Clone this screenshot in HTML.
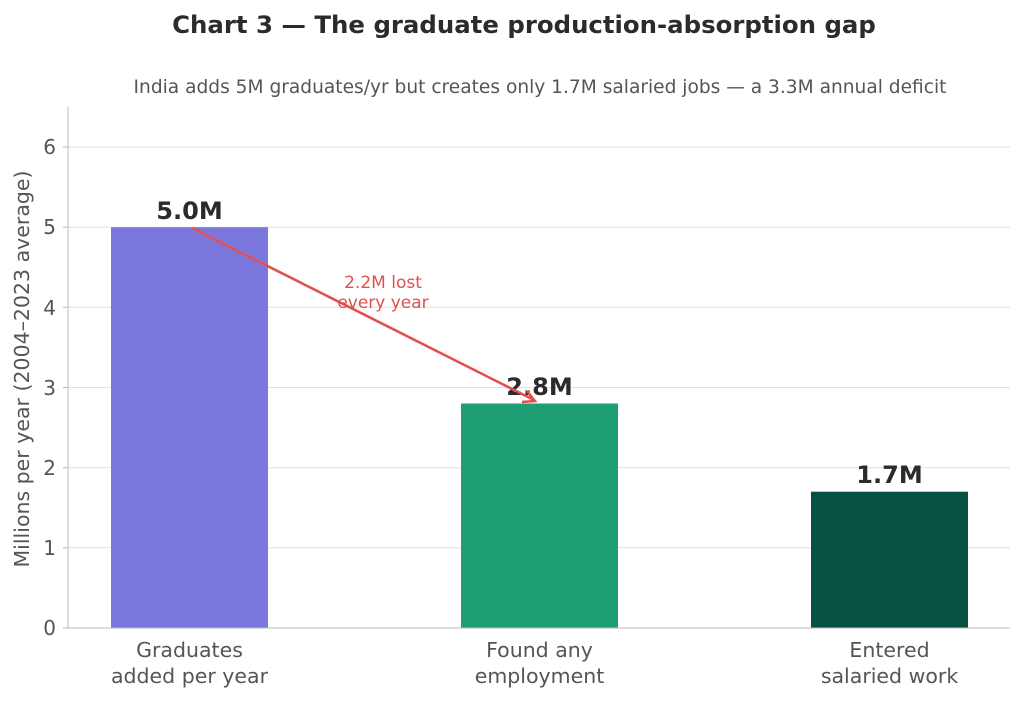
<!DOCTYPE html>
<html><head><meta charset="utf-8"><style>
html,body{margin:0;padding:0;background:#fff;}
svg text{font-family:"DejaVu Sans","Liberation Sans",sans-serif;}
</style></head><body>
<svg width="1024" height="700" xmlns="http://www.w3.org/2000/svg">
<rect width="1024" height="700" fill="#fff"/>
<text x="524" y="33" text-anchor="middle" font-size="24.4" font-weight="bold" fill="#2b2b2b">Chart 3 — The graduate production-absorption gap</text>
<text x="540" y="93" text-anchor="middle" font-size="18.6" fill="#555">India adds 5M graduates/yr but creates only 1.7M salaried jobs — a 3.3M annual deficit</text>
<g stroke="#e0e0dc" stroke-width="1">
<line x1="68" x2="1010" y1="147" y2="147"/>
<line x1="68" x2="1010" y1="227.2" y2="227.2"/>
<line x1="68" x2="1010" y1="307.3" y2="307.3"/>
<line x1="68" x2="1010" y1="387.5" y2="387.5"/>
<line x1="68" x2="1010" y1="467.7" y2="467.7"/>
<line x1="68" x2="1010" y1="547.8" y2="547.8"/>
</g>
<rect x="111" y="227.2" width="157" height="400.8" fill="#7c77dd"/>
<rect x="461" y="403.5" width="157" height="224.5" fill="#1e9e74"/>
<rect x="811" y="491.7" width="157" height="136.3" fill="#075143"/>
<line x1="68" y1="107" x2="68" y2="628" stroke="#bbb" stroke-width="1"/>
<line x1="68" y1="628" x2="1010" y2="628" stroke="#bbb" stroke-width="1"/>
<g font-size="20" fill="#555" text-anchor="end">
<text x="56" y="635">0</text><text x="56" y="555">1</text><text x="56" y="475">2</text>
<text x="56" y="395">3</text><text x="56" y="315">4</text><text x="56" y="234">5</text><text x="56" y="154">6</text>
</g>
<g stroke="#bbb"><line x1="63" x2="68" y1="628" y2="628"/><line x1="63" x2="68" y1="547.8" y2="547.8"/><line x1="63" x2="68" y1="467.7" y2="467.7"/><line x1="63" x2="68" y1="387.5" y2="387.5"/><line x1="63" x2="68" y1="307.3" y2="307.3"/><line x1="63" x2="68" y1="227.2" y2="227.2"/><line x1="63" x2="68" y1="147" y2="147"/></g>
<text transform="translate(29,369) rotate(-90)" text-anchor="middle" font-size="20.5" fill="#555">Millions per year (2004–2023 average)</text>
<g font-size="20.5" fill="#555" text-anchor="middle">
<text x="189.5" y="657">Graduates</text><text x="189.5" y="683">added per year</text>
<text x="539.5" y="657">Found any</text><text x="539.5" y="683">employment</text>
<text x="889.5" y="657">Entered</text><text x="889.5" y="683">salaried work</text>
</g>
<g font-size="24" font-weight="bold" fill="#2b2b2b" text-anchor="middle">
<text x="189.5" y="219">5.0M</text><text x="539.5" y="395">2.8M</text><text x="889.5" y="483">1.7M</text>
</g>
<line x1="192" y1="228" x2="534" y2="400" stroke="#e05050" stroke-width="2.5"/>
<polyline points="522,402 535,401 527,391" fill="none" stroke="#e05050" stroke-width="2.5"/>
<g font-size="17" fill="#e05050" text-anchor="middle">
<text x="383" y="288">2.2M lost</text><text x="383" y="308">every year</text>
</g>
</svg>
</body></html>
